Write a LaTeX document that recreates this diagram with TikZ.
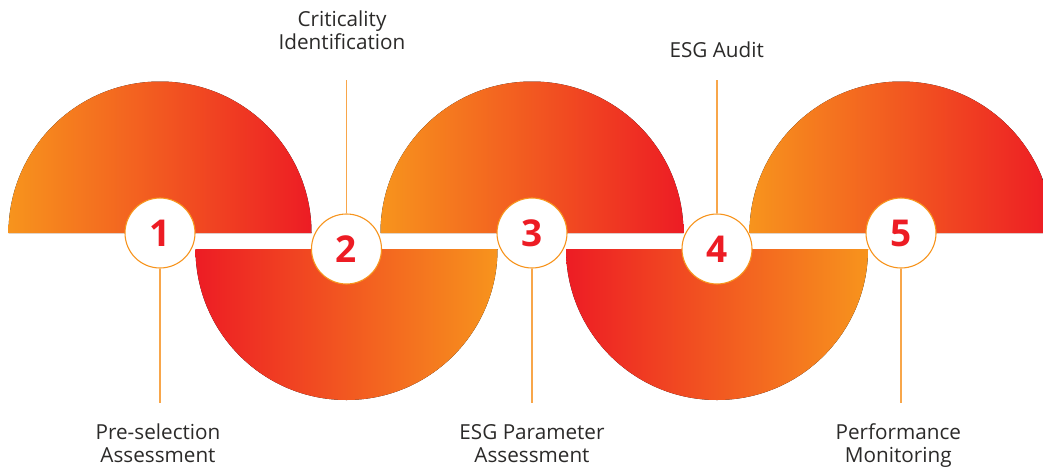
\documentclass[tikz,border=0pt]{standalone}
\usepackage{fontspec}
\setmainfont{Open Sans}
\definecolor{og}{HTML}{F7941D}
\definecolor{md}{HTML}{F26D23}
\definecolor{rd}{HTML}{ED1C24}
\definecolor{txt}{HTML}{2B2A29}
\definecolor{ln}{HTML}{F8A64A}
\begin{document}
\begin{tikzpicture}[x=1pt,y=-1pt,
  updisk/.style={left color=og,middle color=md,right color=rd},
  downdisk/.style={left color=rd,middle color=md,right color=og},
  numc/.style={circle,draw=og,line width=1.1pt,fill=white,minimum size=70pt,inner sep=0pt,
    font=\bfseries\fontsize{37}{37}\selectfont,text=rd},
  leader/.style={draw=ln,line width=1.5pt},
  lbl/.style={font=\fontsize{20.7}{23.5}\selectfont,text=txt,inner sep=0pt,anchor=base}]
\useasboundingbox (0,0) rectangle (1043,466);
\begin{scope}
  \clip (0,0) rectangle (1043,466);
  \fill[updisk]   (8.5,233) arc[start angle=180,end angle=360,radius=151.5] -- cycle;
  \fill[downdisk] (195.5,249) arc[start angle=180,end angle=0,radius=151] -- cycle;
  \fill[updisk]   (380.5,233) arc[start angle=180,end angle=360,radius=151.5] -- cycle;
  \fill[downdisk] (566,249) arc[start angle=180,end angle=0,radius=151] -- cycle;
  \fill[updisk]   (749.5,233) arc[start angle=180,end angle=360,radius=151.5] -- cycle;
\end{scope}
% number circles
\node[numc] (c1) at (160,233) {1};
\node[numc] (c2) at (346.5,249) {2};
\node[numc] (c3) at (532,233) {3};
\node[numc] (c4) at (717,249) {4};
\node[numc] (c5) at (901,233) {5};
% leader ends
\coordinate (e1) at (160,403);
\coordinate (e2) at (346.5,80);
\coordinate (e3) at (532,403);
\coordinate (e4) at (717,80);
\coordinate (e5) at (901,403);
\draw[leader] (c1.south) -- (e1);
\draw[leader] (c2.north) -- (e2);
\draw[leader] (c3.south) -- (e3);
\draw[leader] (c4.north) -- (e4);
\draw[leader] (c5.south) -- (e5);
% labels
\node[lbl] (l1) at (158,439.3) {\begin{tabular}[t]{@{}c@{}}Pre-selection\\Assessment\end{tabular}};
\node[lbl] (l2) at (342,26) {\begin{tabular}[t]{@{}c@{}}Criticality\\Identification\end{tabular}};
\node[lbl] (l3) at (532,439.3) {\begin{tabular}[t]{@{}c@{}}ESG Parameter\\Assessment\end{tabular}};
\node[lbl] (l4) at (716.7,57.7) {ESG Audit};
\node[lbl] (l5) at (898.3,439.3) {\begin{tabular}[t]{@{}c@{}}Performance\\Monitoring\end{tabular}};
\end{tikzpicture}
\end{document}
